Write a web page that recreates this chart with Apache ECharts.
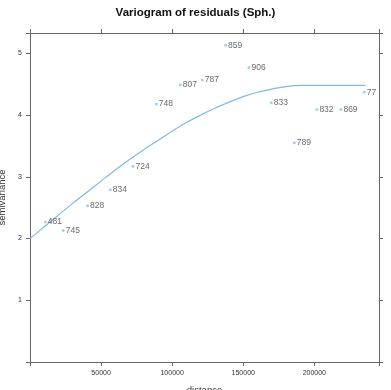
<!DOCTYPE html>
<html><head><meta charset="utf-8">
<script src="https://cdn.jsdelivr.net/npm/echarts@6/dist/echarts.min.js"></script>
<style>html,body{margin:0;padding:0;background:#fff}#c{width:391px;height:390px}</style>
</head><body><div id="c"></div>
<script>
// empirical variogram points
const dist = [10800, 23400, 40500, 56500, 72400, 88800, 105700, 121200, 137600, 154000, 169700, 185900, 201800, 218700, 235100];
const gamma = [2.27, 2.13, 2.53, 2.79, 3.17, 4.18, 4.49, 4.57, 5.13, 4.77, 4.20, 3.55, 4.09, 4.09, 4.37];
const npLabels = ['481', '745', '828', '834', '724', '748', '807', '787', '859', '906', '833', '789', '832', '869', '77'];
// fitted model curve
const modelDist = [0, 10000, 20000, 30000, 40000, 50000, 60000, 70000, 80000, 90000, 100000, 110000, 120000, 130000, 140000, 150000, 160000, 170000, 180000, 190000, 200000, 210000, 220000, 230000, 236000];
const modelGamma = [2.00, 2.19, 2.38, 2.57, 2.75, 2.93, 3.11, 3.28, 3.44, 3.59, 3.74, 3.88, 4.00, 4.11, 4.21, 4.30, 4.37, 4.42, 4.46, 4.48, 4.48, 4.48, 4.48, 4.48, 4.48];
const xTicks = [0, 50000, 100000, 150000, 200000];
const yTicks = [0, 1, 2, 3, 4, 5];

const axisCol = '#666';
const font = 'Liberation Sans, Arial, sans-serif';
const chart = echarts.init(document.getElementById('c'), null, {renderer: 'canvas'});
const baseX = {
  type: 'value', min: 0, max: 245500, interval: 50000,
  axisLine: {show: true, onZero: false, lineStyle: {color: axisCol, width: 1}},
  axisTick: {show: true, length: 4, lineStyle: {color: axisCol}},
  splitLine: {show: false}
};
const baseY = {
  type: 'value', min: 0, max: 5.33, interval: 1,
  axisLine: {show: true, onZero: false, lineStyle: {color: axisCol, width: 1}},
  axisTick: {show: true, length: 4, lineStyle: {color: axisCol}},
  splitLine: {show: false}
};
chart.setOption({
  animation: false,
  title: {text: 'Variogram of residuals (Sph.)', left: 'center', top: 2,
    textStyle: {fontFamily: font, fontSize: 11.5, fontWeight: 'bold', color: '#111'}},
  grid: {left: 30, right: 12, top: 33, bottom: 28, containLabel: false, outerBoundsMode: 'none'},
  xAxis: [
    Object.assign({}, baseX, {position: 'bottom', name: 'distance', nameLocation: 'middle', nameGap: 23,
      nameTextStyle: {fontFamily: font, fontSize: 9.5, color: '#333'},
      axisLabel: {show: true, fontFamily: font, fontSize: 7, color: '#333', margin: 8,
        formatter: v => (xTicks.indexOf(v) > 0 ? String(v) : '')}}),
    Object.assign({}, baseX, {position: 'top', axisLabel: {show: false}})
  ],
  yAxis: [
    Object.assign({}, baseY, {position: 'left', name: 'semivariance', nameLocation: 'middle', nameGap: 18,
      nameTextStyle: {fontFamily: font, fontSize: 9.5, color: '#333'},
      axisLabel: {show: true, fontFamily: font, fontSize: 7, color: '#333', margin: 8,
        formatter: v => (yTicks.indexOf(v) > 0 ? String(v) : '')}}),
    Object.assign({}, baseY, {position: 'right', axisLabel: {show: false}})
  ],
  series: [
    {
      type: 'line', xAxisIndex: 0, yAxisIndex: 0, smooth: 0.3, symbol: 'none',
      lineStyle: {color: '#7fb8ee', width: 1.2},
      data: modelDist.map((d, i) => [d, modelGamma[i]]),
      z: 2
    },
    {
      type: 'scatter', xAxisIndex: 0, yAxisIndex: 0, symbol: 'circle', symbolSize: 3,
      itemStyle: {color: '#8ec2f2'},
      data: dist.map((d, i) => ({value: [d, gamma[i]], name: npLabels[i]})),
      label: {show: true, position: 'right', distance: 1, formatter: p => p.name,
        fontFamily: font, fontSize: 8.5, color: '#444'},
      z: 3
    }
  ]
});
</script>
</body></html>
